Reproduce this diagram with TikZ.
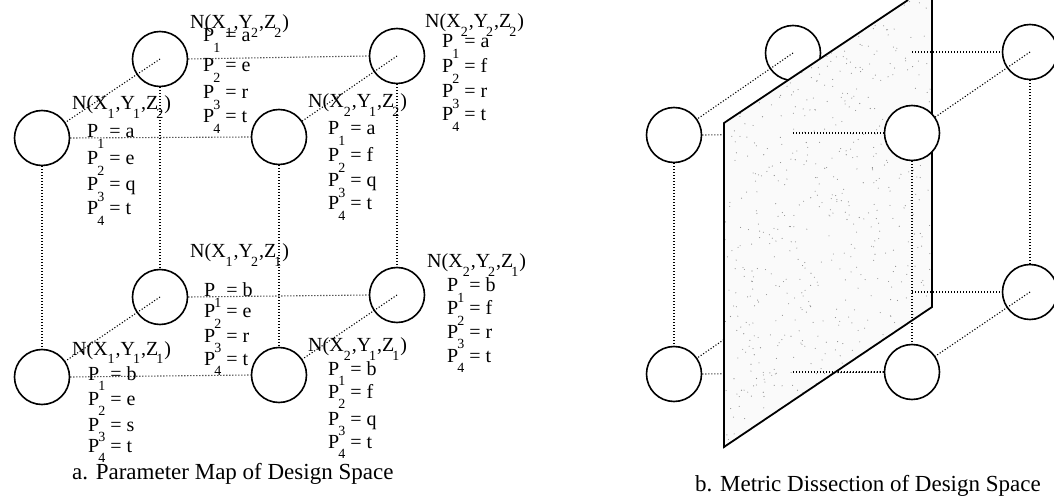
\documentclass[tikz,border=0pt]{standalone}
\usepackage{fontspec}
\setmainfont{Liberation Serif}
\usetikzlibrary{calc}
\pgfdeclarelayer{back}
\pgfdeclarelayer{mid}
\pgfsetlayers{back,mid,main}
\newcommand\psub[1]{\kern-1pt\raisebox{-10.5pt}{\fontsize{14}{14}\selectfont #1}}
\newcommand\nsub[1]{\raisebox{-9pt}{\fontsize{14}{14}\selectfont #1}}
\newcommand\Nlab[3]{N(X\nsub{#1}\kern1pt,Y\kern-2pt\nsub{#2}\kern1pt,Z\kern-2pt\nsub{#3}\kern1pt)}
\begin{document}
\begin{tikzpicture}[x=1pt,y=-1pt,
  ball/.style={circle,draw,line width=1.6pt,minimum size=55pt,inner sep=0pt},
  wball/.style={ball,fill=white},
  dotl/.style={line width=1.1pt,dash pattern=on 1.1pt off 1.9pt},
  lab/.style={anchor=base west,inner sep=0pt,font=\fontsize{20}{24}\selectfont},
  captext/.style={anchor=base west,inner sep=0pt,font=\fontsize{23}{27}\selectfont},
  planeline/.style={draw,line width=1.8pt,line join=miter}]
\useasboundingbox (0,0) rectangle (1054,502);

% ---------- panel a ----------
\node[ball] (Aftl) at (42,138) {};
\node[ball] (Abtl) at (160,59) {};
\node[ball] (Aftr) at (279,137) {};
\node[ball] (Abtr) at (397,56) {};
\node[ball] (Afbl) at (42,377) {};
\node[ball] (Abbl) at (160,297) {};
\node[ball] (Afbr) at (279,375) {};
\node[ball] (Abbr) at (397,295) {};

\draw[dotl] (Aftl.east) -- (Aftr.west);
\draw[dotl] (Abtl.east) -- (Abtr.west);
\draw[dotl] (Afbl.east) -- (Afbr.west);
\draw[dotl] (Abbl.east) -- (Abbr.west);
\draw[dotl] (Aftl.south) -- (Afbl.north);
\draw[dotl] (Abtl.south) -- (Abbl.north);
\draw[dotl] (Aftr.south) -- (Afbr.north);
\draw[dotl] (Abtr.south) -- (Abbr.north);
\draw[dotl] (Abtl.center) -- (Aftl);
\draw[dotl] (Abtr.center) -- (Aftr);
\draw[dotl] (Abbl.center) -- (Afbl);
\draw[dotl] (Abbr.center) -- (Afbr);

\foreach \nm/\x/\y/\t in {
  nA/190/29/{\Nlab{1}{2}{2}}, nB/425/28/{\Nlab{2}{2}{2}},
  nC/72/110/{\Nlab{1}{1}{2}}, nD/308/108/{\Nlab{2}{1}{2}},
  nE/190/258/{\Nlab{1}{2}{1}}, nF/427/268/{\Nlab{2}{2}{1}},
  nG/72/355/{\Nlab{1}{1}{1}}, nH/308/352/{\Nlab{2}{1}{1}}}
  {\node[lab] (\nm) at (\x,\y) {\t};}

\foreach \nm/\x/\y/\n/\v in {
  pA1/203/42/1/a, pA2/203/72/2/e, pA3/203/99/3/r, pA4/203/123/4/t,
  pB1/442/48/1/a, pB2/442/73/2/f, pB3/442/98/3/r, pB4/442/121/4/t,
  pC1/87/138/1/a, pC2/87/165/2/e, pC3/87/191/3/q, pC4/87/215/4/t,
  pD1/328/135/1/a, pD2/328/162/2/f, pD3/328/187/3/q, pD4/328/210/4/t,
  pE1/204/297/1/b, pE2/204/318/2/e, pE3/204/342/3/r, pE4/204/365/4/t,
  pF1/447/292/1/b, pF2/447/315/2/f, pF3/447/338/3/r, pF4/447/362/4/t,
  pG1/88/380/1/b, pG2/88/405/2/e, pG3/88/431/3/s, pG4/88/452/4/t,
  pH1/328/375/1/b, pH2/328/398/2/f, pH3/328/425/3/q, pH4/328/448/4/t}
  {\node[lab] (\nm) at (\x,\y) {P\psub{\n} = \v};}

\node[captext] (capA) at (72,479) {a. Parameter Map of Design Space};

% ---------- panel b ----------
\node[wball] (Bftl) at (674,135) {};
\node[wball] (Bftr) at (912,133) {};
\node[wball] (Bbtr) at (1030,52) {};
\node[wball] (Bfbl) at (674,374) {};
\node[wball] (Bfbr) at (912,372) {};
\node[wball] (Bbbr) at (1030,292) {};
\coordinate (Bbbl) at (793,292);

\begin{pgfonlayer}{back}
  \node[wball] (Bbtl) at (793,53) {};
  \draw[dotl] (Bbtl.center) -- (Bftl);
  \draw[dotl] (Bftl.east) -- (Bftr.west);
  \draw[dotl] (Bfbl.east) -- (Bfbr.west);
  \draw[dotl] (Bbbl) -- (Bfbl);
\end{pgfonlayer}

\begin{pgfonlayer}{mid}
  \coordinate (Pa) at (908,0);
  \coordinate (Pb) at (724,123);
  \coordinate (Pc) at (724,447);
  \coordinate (Pd) at (932,307);
  \coordinate (Pe) at (932,0);
  \fill[black!2] (Pa) -- (Pb) -- (Pc) -- (Pd) -- (Pe) -- cycle;
  \begin{scope}
    \clip (Pa) -- (Pb) -- (Pc) -- (Pd) -- (Pe) -- cycle;
    \pgfmathsetseed{7}
    \foreach \i in {1,...,700} {
      \pgfmathsetmacro\dx{724+208*rnd}
      \pgfmathsetmacro\dy{447*rnd}
      \fill[black!45] (\dx,\dy) circle (0.55);
    }
  \end{scope}
  \draw[planeline] (Pa) -- (Pb) -- (Pc) -- (Pd) -- (Pe);
\end{pgfonlayer}

\draw[dotl] (Bbtl |- Bftr.west) -- (Bftr.west);
\draw[dotl] (Bftr |- Bbtr.west) -- (Bbtr.west);
\draw[dotl] (Bbtl |- Bfbr.west) -- (Bfbr.west);
\draw[dotl] (Bfbr |- Bbbr.west) -- (Bbbr.west);
\draw[dotl] (Bftl.south) -- (Bfbl.north);
\draw[dotl] (Bftr.south) -- (Bfbr.north);
\draw[dotl] (Bbtr.south) -- (Bbbr.north);
\draw[dotl] (Bbtr.center) -- (Bftr);
\draw[dotl] (Bbbr.center) -- (Bfbr);

\node[captext] (capB) at (695,491) {b. Metric Dissection of Design Space};
\end{tikzpicture}
\end{document}
